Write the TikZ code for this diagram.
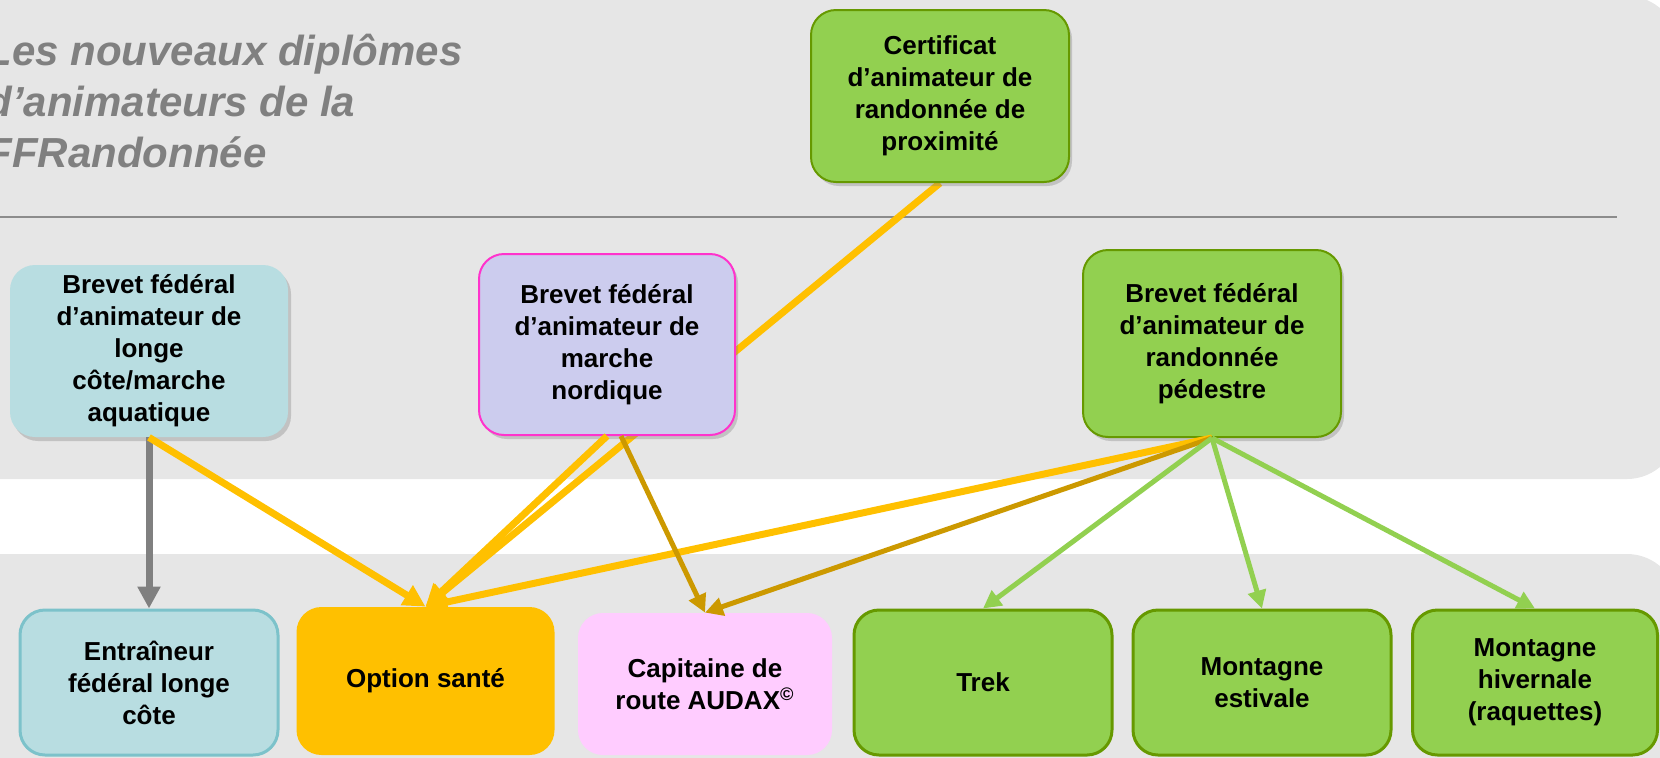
\documentclass[tikz,border=0pt]{standalone}
\usepackage{fontspec}
\setmainfont{Liberation Sans}
\usetikzlibrary{arrows.meta,shadows}

\definecolor{panelgrey}{HTML}{E6E6E6}
\definecolor{rulegrey}{HTML}{8C8C8C}
\definecolor{titlegrey}{HTML}{808080}
\definecolor{aquafill}{HTML}{B8DDE1}
\definecolor{aquaborder}{HTML}{7CC2CA}
\definecolor{leafgreen}{HTML}{92D050}
\definecolor{leafborder}{HTML}{669900}
\definecolor{lilac}{HTML}{CCCCEE}
\definecolor{lilacborder}{HTML}{FF33CC}
\definecolor{santeyellow}{HTML}{FFC000}
\definecolor{pinkfill}{HTML}{FFCCFF}
\definecolor{gold}{HTML}{CC9900}

\pgfdeclarelayer{back}
\pgfsetlayers{back,main}

\tikzset{
  box/.style={rounded corners=12.5pt, align=center, inner sep=0pt,
    font=\bfseries\fontsize{13}{16}\selectfont},
  topbox/.style={box, drop shadow={shadow xshift=1.5pt, shadow yshift=-2pt, opacity=0.35}},
  lowbox/.style={box, minimum width=129pt, minimum height=72.5pt},
  feed/.style={line width=3.5pt, -{Triangle[length=11pt,width=11pt]}},
  thinfeed/.style={line width=2.5pt, -{Triangle[length=9pt,width=9pt]}},
}

\begin{document}
\begin{tikzpicture}[x=0.5pt, y=-0.5pt]

    \useasboundingbox (0,0) rectangle (1660,757);

    % title
    \draw(-14,34) node[anchor=north west, align=left, inner sep=0pt, text=titlegrey,
      font=\bfseries\itshape\fontsize{21}{25.5}\selectfont] (title)
      {Les nouveaux diplômes\\d’animateurs de la\\FFRandonnée};

    % upper row
    \draw(149,351) node[topbox, fill=aquafill, minimum width=139pt, minimum height=86pt] (longe)
      {Brevet fédéral\\d’animateur de\\longe\\côte/marche\\aquatique};
    \draw(607,344.5) node[topbox, fill=lilac, draw=lilacborder, line width=1pt,
      minimum width=128pt, minimum height=90.5pt] (nordique)
      {Brevet fédéral\\d’animateur de\\marche\\nordique};
    \draw(1212,343.5) node[topbox, fill=leafgreen, draw=leafborder, line width=1pt,
      minimum width=129pt, minimum height=93.5pt] (pedestre)
      {Brevet fédéral\\d’animateur de\\randonnée\\pédestre};
    \draw(940,96) node[topbox, fill=leafgreen, draw=leafborder, line width=1pt,
      minimum width=129pt, minimum height=86pt] (certificat)
      {Certificat\\d’animateur de\\randonnée de\\proximité};

    % lower row
    \draw(149,682.5) node[lowbox, fill=aquafill, draw=aquaborder, line width=1.5pt] (entraineur)
      {Entraîneur\\fédéral longe\\côte};
    \draw(425.5,681) node[lowbox, fill=santeyellow, minimum height=74pt] (sante) {Option santé};
    \draw(705,684) node[lowbox, fill=pinkfill, minimum width=127pt, minimum height=71pt] (capitaine)
      {Capitaine de\\route AUDAX\textsuperscript{©}};
    \draw(983,682.5) node[lowbox, fill=leafgreen, draw=leafborder, line width=1.5pt] (trek) {Trek};
    \draw(1262,682.5) node[lowbox, fill=leafgreen, draw=leafborder, line width=1.5pt] (estivale)
      {Montagne\\estivale};
    \draw(1535,682.5) node[lowbox, fill=leafgreen, draw=leafborder, line width=1.5pt,
      minimum width=122.5pt] (hivernale) {Montagne\\hivernale\\(raquettes)};

    \begin{pgfonlayer}{back}
      \fill[panelgrey, rounded corners=25.5pt] (-60,-4) rectangle (1678,479);
      \fill[panelgrey, rounded corners=25.5pt] (-60,554) rectangle (1678,820);
      \draw[rulegrey, line width=1.2pt] (-10,217) -- (1617,217);
      \draw[feed, santeyellow] (certificat.south) -- (sante.north);
    \end{pgfonlayer}

    \draw[feed, titlegrey] (longe) -- (entraineur);
    \draw[feed, santeyellow] (longe.south) -- (sante.north);
    \draw[feed, santeyellow] (nordique.south) -- (sante.north);
    \draw[feed, santeyellow] (pedestre.south) -- (sante.north);
    \draw[thinfeed, gold] ([xshift=7pt]nordique.south) -- (capitaine.north);
    \draw[thinfeed, gold] (pedestre.south) -- (capitaine.north);
    \draw[thinfeed, leafgreen] (pedestre.south) -- (trek.north);
    \draw[thinfeed, leafgreen] (pedestre.south) -- (estivale.north);
    \draw[thinfeed, leafgreen] (pedestre.south) -- (hivernale.north);

\end{tikzpicture}
\end{document}
